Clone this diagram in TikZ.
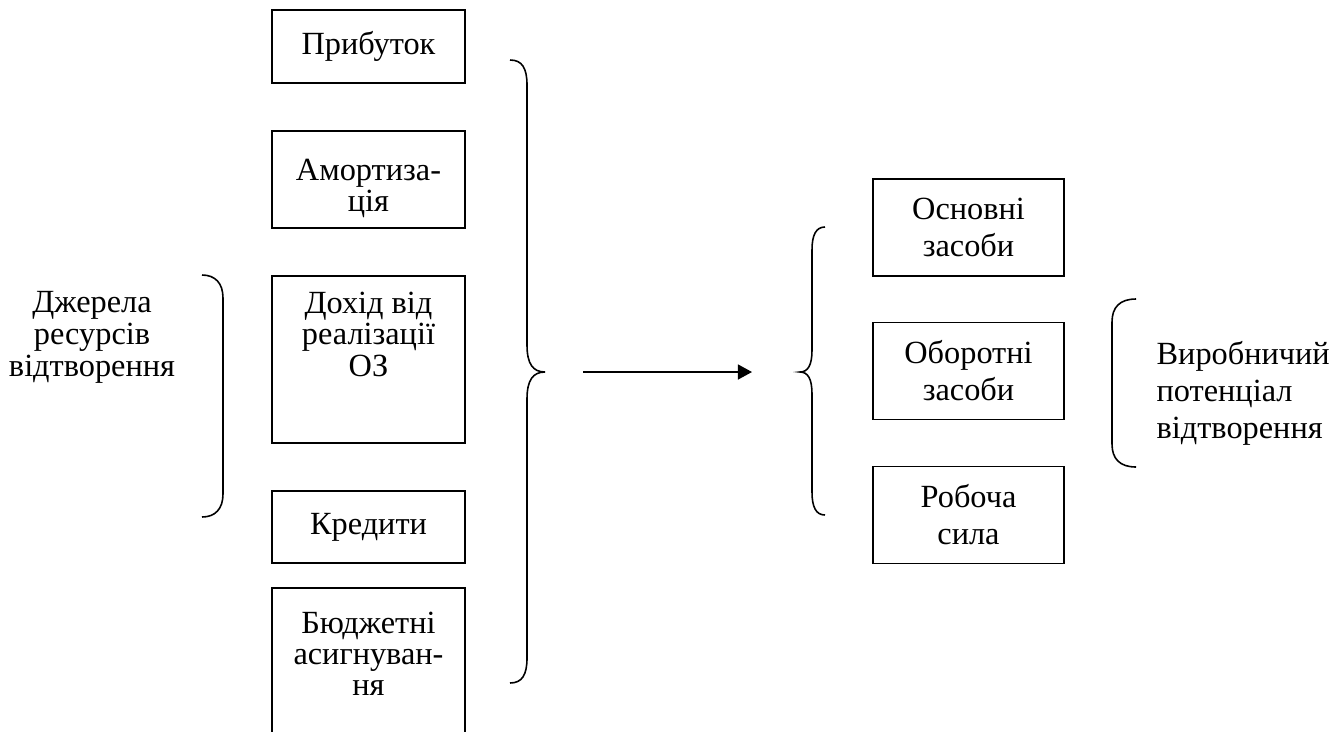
\documentclass[tikz,border=0pt]{standalone}
\usepackage{fontspec}
\setmainfont{Liberation Serif}
\usepackage{tikz}
\usetikzlibrary{arrows.meta}

\begin{document}
\begin{tikzpicture}[x=0.02cm,y=-0.02cm,line width=0.9pt,
    font=\fontsize{18.4}{18}\selectfont,
    srcbox/.style={draw,align=center,minimum width=3.86cm},
    resbox/.style={draw,align=center,minimum width=3.82cm,minimum height=1.94cm,
        font=\fontsize{18.4}{21}\selectfont}]
\useasboundingbox (0,0) rectangle (1344,731);
\node[srcbox,minimum height=1.46cm] (prybutok) at (368.5,46.5) {Прибуток};
\node[srcbox,minimum height=1.94cm,font=\fontsize{18.4}{17.5}\selectfont] (amort) at (368.5,179.5) {\rule{0pt}{22pt}Амортиза-\\ція};
\node[srcbox,anchor=north,inner ysep=9pt] (dokhid) at (368.5,275) {Дохід від\\реалізації\\ОЗ\\[0.39cm]\mbox{}};
\node[srcbox,minimum height=1.44cm] (kredyty) at (368.5,527) {Кредити};
\node[srcbox,anchor=north,inner ysep=14pt,font=\fontsize{18.4}{17.5}\selectfont] (budzhet) at (368.5,587) {Бюджетні\\асигнуван-\\ня\\[1cm]\mbox{}};
\node[resbox] (osnovni) at (968.5,227.5) {Основні\\засоби};
\node[resbox] (oborotni) at (968.5,371) {Оборотні\\засоби};
\node[resbox] (robocha) at (968.5,515) {Робоча\\сила};
\node[align=center,anchor=north] (dzherela) at (92,285) {Джерела\\ресурсів\\відтворення};
\node[align=left,anchor=west,font=\fontsize{18.4}{21}\selectfont] (potentsial) at (1150,393) {Виробничий\\потенціал\\відтворення};
\draw (202,275) .. controls (215,275) and (223,283) .. (223,298) -- (223,494)
    .. controls (223,509) and (215,517) .. (202,517);
\draw (510,60) .. controls (522,60) and (527,68) .. (527,85) -- (527,345)
    .. controls (527,364) and (533,372) .. (545,372)
    .. controls (533,372) and (527,380) .. (527,399) -- (527,658)
    .. controls (527,675) and (522,683) .. (510,683);
\draw (825,227) .. controls (816,227) and (812,235) .. (812,250) -- (812,350)
    .. controls (812,365) and (808,372) .. (800,372)
    .. controls (808,372) and (812,379) .. (812,394) -- (812,492)
    .. controls (812,507) and (816,515) .. (825,515);
\draw (1136,299) .. controls (1120,299) and (1112,307) .. (1112,322) -- (1112,444)
    .. controls (1112,459) and (1120,467) .. (1136,467);
\coordinate (arrstart) at (583,372);
\coordinate (arrend) at (752,372);
\draw[-{Triangle[length=8pt,width=8.5pt]}] (arrstart) -- (arrend);
\end{tikzpicture}
\end{document}
